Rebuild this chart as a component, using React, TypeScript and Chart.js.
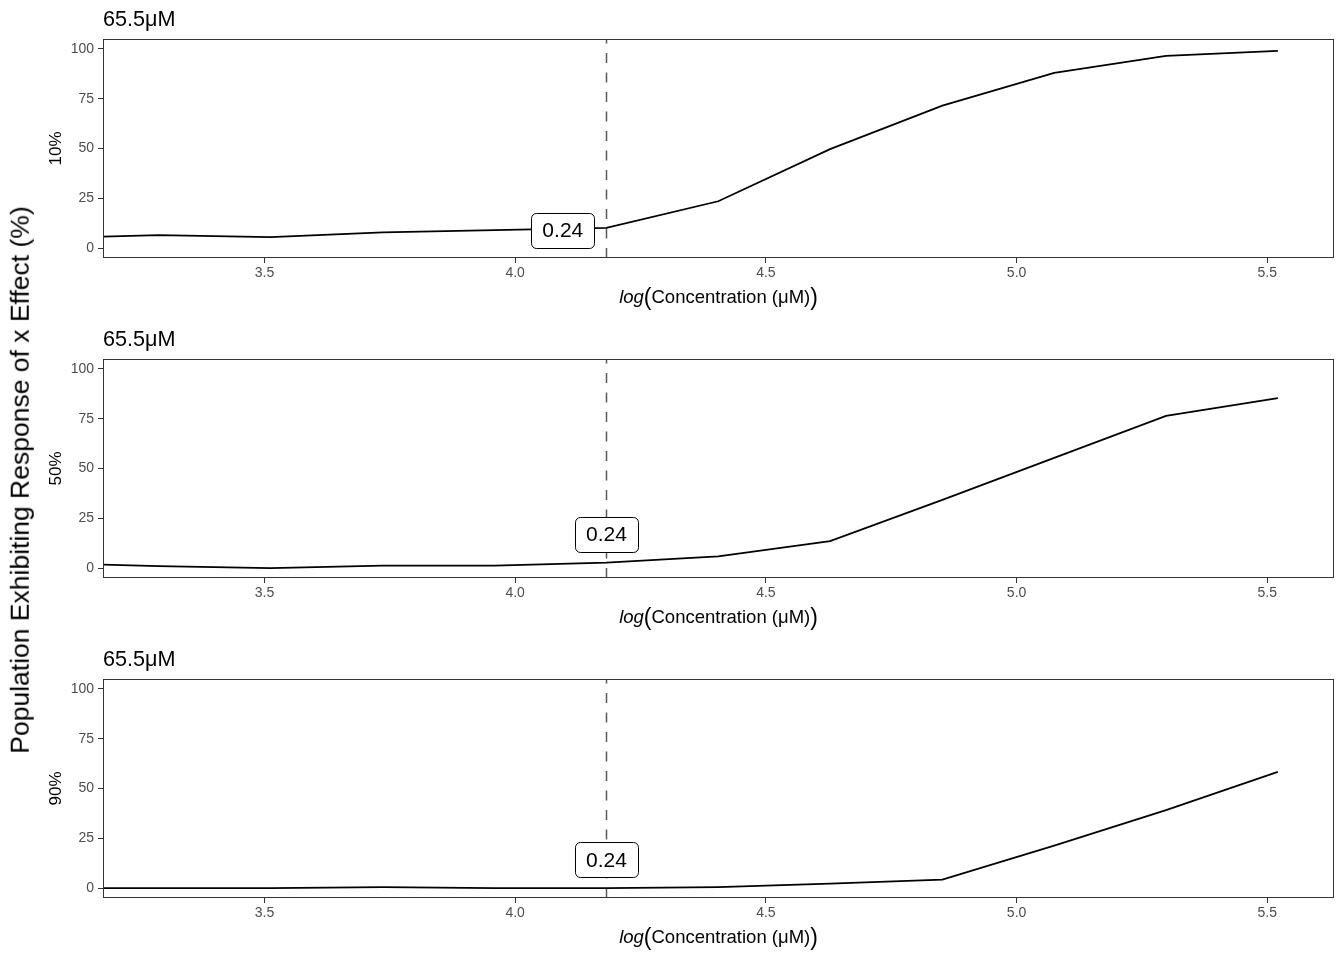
import React, { useEffect, useRef } from "react";
import { Chart, registerables } from "chart.js";

Chart.register(...registerables);

const FONT = "'Liberation Sans', Arial, Helvetica, sans-serif";

// ---- data ----
const logConcentration = [3.066, 3.289, 3.512, 3.736, 3.959, 4.182, 4.405, 4.628, 4.852, 5.075, 5.298, 5.521];
const response10 = [4.9, 6.5, 5.5, 7.9, 9.0, 10.1, 23.5, 49.7, 71.5, 88.0, 96.5, 99.0];
const response50 = [2.4, 1.0, 0.0, 1.2, 1.2, 2.7, 5.9, 13.5, 34.2, 55.3, 76.4, 85.3];
const response90 = [0.0, 0.0, 0.0, 0.5, 0.0, 0.0, 0.5, 2.2, 4.2, 21.3, 39.1, 58.4];
const panelSeries = [response10, response50, response90];
const panelLabels = ["10%", "50%", "90%"];
const panelTitle = "65.5μM";
const markerLogConc = 4.182;
const markerText = "0.24";
const markerLabelX = [4.095, 4.182, 4.182];
const markerLabelY = [8.8, 16.8, 14.1];
const xTicks = [3.5, 4.0, 4.5, 5.0, 5.5];
const yTicks = [0, 25, 50, 75, 100];
const xMin = 3.178;
const xMax = 5.633;
const yMin = -5;
const yMax = 105;
const globalYLabel = "Population Exhibiting Response of x Effect (%)";
const xTitleFn = "log";
const xTitleArg = "Concentration (μM)";

function Panel({ index }: { index: number }) {
  const ref = useRef<HTMLCanvasElement | null>(null);

  useEffect(() => {
    const canvas = ref.current;
    if (!canvas) return;
    const series = panelSeries[index];

    const decor = {
      id: "panelDecor",
      beforeDatasetsDraw(chart: any) {
        const { ctx, chartArea: a, scales } = chart;
        const x = Math.round(scales.x.getPixelForValue(markerLogConc)) + 0.5;
        ctx.save();
        ctx.strokeStyle = "#595959";
        ctx.lineWidth = 1.5;
        ctx.setLineDash([10, 9.5]);
        ctx.beginPath();
        ctx.moveTo(x, a.bottom);
        ctx.lineTo(x, a.top);
        ctx.stroke();
        ctx.restore();
      },
      afterDatasetsDraw(chart: any) {
        const { ctx, scales } = chart;
        const cx = scales.x.getPixelForValue(markerLabelX[index]);
        const cy = scales.y.getPixelForValue(markerLabelY[index]);
        ctx.save();
        ctx.font = `21px ${FONT}`;
        const tw = ctx.measureText(markerText).width;
        const w = tw + 22;
        const h = 35;
        ctx.beginPath();
        ctx.roundRect(Math.round(cx - w / 2) + 0.5, Math.round(cy - h / 2) + 0.5, Math.round(w), h, 5);
        ctx.fillStyle = "#ffffff";
        ctx.fill();
        ctx.strokeStyle = "#000000";
        ctx.lineWidth = 1;
        ctx.stroke();
        ctx.fillStyle = "#000000";
        ctx.textAlign = "center";
        ctx.textBaseline = "middle";
        ctx.fillText(markerText, cx, cy + 1);
        ctx.restore();
      },
      afterDraw(chart: any) {
        const { ctx, chartArea: a } = chart;
        ctx.save();
        // panel border
        ctx.strokeStyle = "#333333";
        ctx.lineWidth = 1;
        ctx.strokeRect(Math.round(a.left) + 0.5, Math.round(a.top) + 0.5, Math.round(a.right - a.left) - 1, Math.round(a.bottom - a.top) - 1);
        // panel title
        ctx.fillStyle = "#000000";
        ctx.textBaseline = "alphabetic";
        ctx.textAlign = "left";
        ctx.font = `21.6px ${FONT}`;
        ctx.fillText(panelTitle, a.left, 26);
        // x axis title: italic log + big parens
        const normal = `18.5px ${FONT}`;
        const italic = `italic 18.5px ${FONT}`;
        const big = `23px ${FONT}`;
        ctx.font = italic;
        const wFn = ctx.measureText(xTitleFn).width;
        ctx.font = normal;
        const wArg = ctx.measureText(xTitleArg).width;
        ctx.font = big;
        const wL = ctx.measureText("(").width;
        const wR = ctx.measureText(")").width;
        const total = wFn + wL + wArg + wR;
        let x = (a.left + a.right) / 2 - total / 2;
        const by = a.bottom + 45;
        ctx.font = italic;
        ctx.fillText(xTitleFn, x, by);
        x += wFn;
        ctx.font = big;
        ctx.fillText("(", x, by + 1.5);
        x += wL;
        ctx.font = normal;
        ctx.fillText(xTitleArg, x, by);
        x += wArg;
        ctx.font = big;
        ctx.fillText(")", x, by + 1.5);
        ctx.restore();
      },
    };

    const tickFont = { family: FONT, size: 14 };
    const chart = new Chart(canvas, {
      type: "line",
      data: {
        datasets: [
          {
            data: logConcentration.map((x, i) => ({ x, y: series[i] })),
            borderColor: "#000000",
            borderWidth: 1.8,
            pointRadius: 0,
            tension: 0,
            fill: false,
            clip: 0,
          } as any,
        ],
      },
      options: {
        animation: false,
        responsive: false,
        events: [],
        layout: { padding: { left: 44, right: 10, top: 39, bottom: 0 } },
        plugins: {
          legend: { display: false },
          tooltip: { enabled: false },
          title: { display: false },
        },
        scales: {
          x: {
            type: "linear",
            min: xMin,
            max: xMax,
            afterBuildTicks: (s: any) => {
              s.ticks = xTicks.map((v) => ({ value: v }));
            },
            afterFit: (s: any) => {
              s.height = 62;
            },
            grid: { drawOnChartArea: false, drawTicks: true, tickLength: 5, tickColor: "#333333", tickWidth: 1 },
            border: { display: false },
            ticks: {
              color: "#4d4d4d",
              font: tickFont,
              padding: 2,
              maxRotation: 0,
              autoSkip: false,
              callback: (v: any) => Number(v).toFixed(1),
            },
          },
          y: {
            type: "linear",
            min: yMin,
            max: yMax,
            afterBuildTicks: (s: any) => {
              s.ticks = yTicks.map((v) => ({ value: v }));
            },
            afterFit: (s: any) => {
              s.width = 59;
            },
            grid: { drawOnChartArea: false, drawTicks: true, tickLength: 5, tickColor: "#333333", tickWidth: 1 },
            border: { display: false },
            ticks: {
              color: "#4d4d4d",
              font: tickFont,
              padding: 4,
              autoSkip: false,
              callback: (v: any) => String(v),
            },
            title: {
              display: true,
              text: panelLabels[index],
              color: "#000000",
              font: { family: FONT, size: 17 },
              padding: { top: 2, bottom: 0 },
            },
          },
        },
      } as any,
      plugins: [decor],
    });
    return () => chart.destroy();
  }, [index]);

  return (
    <canvas
      ref={ref}
      width={1344}
      height={320}
      style={{ position: "absolute", left: 0, top: index * 320, width: 1344, height: 320 }}
    />
  );
}

export default function App() {
  return (
    <div style={{ position: "absolute", left: 0, top: 0, width: 1344, height: 960, background: "#ffffff", overflow: "hidden" }}>
      {[0, 1, 2].map((i) => (
        <Panel key={i} index={i} />
      ))}
      <div
        style={{
          position: "absolute",
          left: 20,
          top: 480,
          transform: "translate(-50%, -50%) rotate(-90deg)",
          whiteSpace: "nowrap",
          fontFamily: FONT,
          fontSize: 26.5,
          lineHeight: 1,
          color: "#000000",
        }}
      >
        {globalYLabel}
      </div>
    </div>
  );
}
